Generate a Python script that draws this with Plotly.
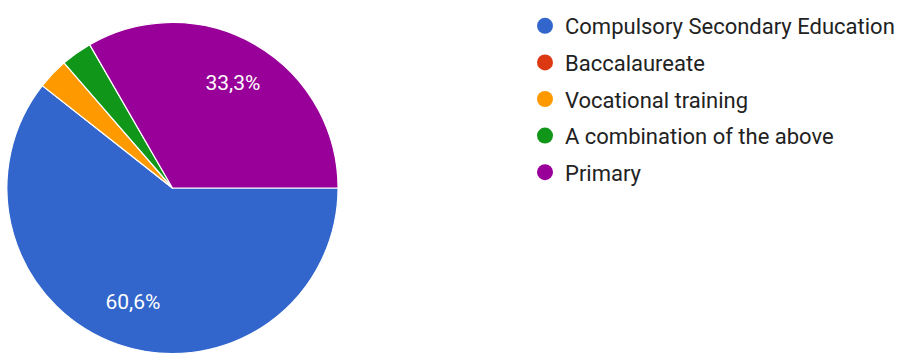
import plotly.graph_objects as go

categories = ["Compulsory Secondary Education", "Baccalaureate", "Vocational training",
              "A combination of the above", "Primary"]
counts = [20, 0, 1, 1, 11]
colors = ["#3366cc", "#dc3912", "#ff9900", "#109618", "#990099"]

total = sum(counts)
labels_txt = [(f"{c / total * 100:.1f}".replace(".", ",") + "%") if c / total > 0.05 else ""
              for c in counts]

FONT = "Roboto, Arial, sans-serif"
DOMAIN = dict(x=[7 / 900, 343 / 900], y=[0, 1 - 20 / 356])

fig = go.Figure()
fig.add_trace(go.Pie(
    labels=categories, values=counts, sort=False, direction="clockwise", rotation=90,
    marker=dict(colors=colors, line=dict(color="white", width=1.2)),
    textinfo="none", showlegend=False, hoverinfo="label+percent",
    domain=DOMAIN,
))
# text-only ring so the percentage labels sit at ~0.72 of the radius
fig.add_trace(go.Pie(
    labels=categories, values=counts, sort=False, direction="clockwise", rotation=90,
    hole=0.46,
    marker=dict(colors=["rgba(0,0,0,0)"] * len(categories), line=dict(width=0)),
    text=labels_txt, textinfo="text", textposition="inside",
    insidetextorientation="horizontal",
    textfont=dict(color="white", size=21, family=FONT),
    showlegend=False, hoverinfo="skip",
    domain=DOMAIN,
))
for name, col in zip(categories, colors):
    fig.add_trace(go.Scatter(
        x=[None], y=[None], mode="markers", name=name, legendgroup=name,
        marker=dict(color=col, size=20, symbol="circle"),
    ))

fig.update_layout(
    width=900, height=356, margin=dict(l=0, r=0, t=0, b=0),
    paper_bgcolor="white", plot_bgcolor="white",
    xaxis=dict(visible=False), yaxis=dict(visible=False),
    legend=dict(x=0.592, y=0.986, xanchor="left", yanchor="top",
                font=dict(size=22, family=FONT, color="#222222"),
                tracegroupgap=5, itemsizing="trace"),
)
fig.write_html("out.html", config={"displayModeBar": False},
               post_script="document.body.style.margin='0';")
